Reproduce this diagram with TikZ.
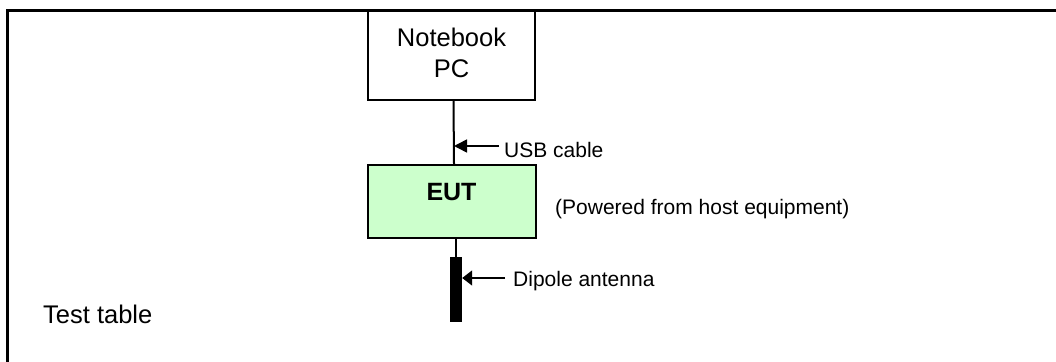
\documentclass[tikz,border=0pt]{standalone}
\usepackage{fontspec}
\setmainfont{Liberation Sans}
\usetikzlibrary{arrows.meta}
\begin{document}
\begin{tikzpicture}[x=1pt,y=-1pt,
  boxstyle/.style={draw=black,line width=2pt,inner sep=0pt},
  conn/.style={line width=2pt},
  pointer/.style={line width=1.6pt,-{Triangle[length=13pt,width=13pt]}},
  lbl/.style={inner sep=0pt,font=\fontsize{21}{25}\selectfont},
  big/.style={font=\fontsize{25.5}{31}\selectfont}]
\useasboundingbox (0,0) rectangle (1056,361);
% test table frame
\draw[line width=3pt] (7.5,362) -- (7.5,10.5) -- (1058,10.5);
% notebook
\node[boxstyle,minimum width=167pt,minimum height=89pt,fill=white] (nb) at (451.5,55.5) {};
\node[big,inner sep=0pt,anchor=base] (nbt1) at (451.5,46) {Notebook};
\node[big,inner sep=0pt,anchor=base] (nbt2) at (451.5,77.5) {PC};
% EUT
\node[boxstyle,minimum width=168pt,minimum height=73pt,fill={rgb,255:red,204;green,255;blue,204}] (eut) at (452,201.5) {};
\node[inner sep=0pt,anchor=base,font=\fontsize{25}{30}\selectfont\bfseries] (eutt) at (451.5,200) {EUT};
% USB cable
\draw[conn] ([xshift=2pt]nb.south) -- ([xshift=2pt]eut.north);
\coordinate (usbtip) at (454,146);
\coordinate (usbtail) at (499,146);
\draw[pointer] (usbtail) -- (usbtip);
\node[lbl,anchor=base west] (usb) at (504,157) {USB cable};
% powered
\node[lbl,anchor=base west] (pow) at (555,214) {(Powered from host equipment)};
% antenna
\node[fill=black,inner sep=0pt,minimum width=12pt,minimum height=65pt] (ant) at (456,289.5) {};
\draw[conn] ([xshift=4pt]eut.south) -- (ant.north);
\coordinate (anttail) at (505,278);
\draw[pointer,-{Triangle[length=10pt,width=15pt]}] (anttail) -- (ant.east |- anttail);
\node[lbl,anchor=base west] (dip) at (513,286.5) {Dipole antenna};
% test table label
\node[big,inner sep=0pt,anchor=base west] (tt) at (43,323) {Test table};
\end{tikzpicture}
\end{document}
